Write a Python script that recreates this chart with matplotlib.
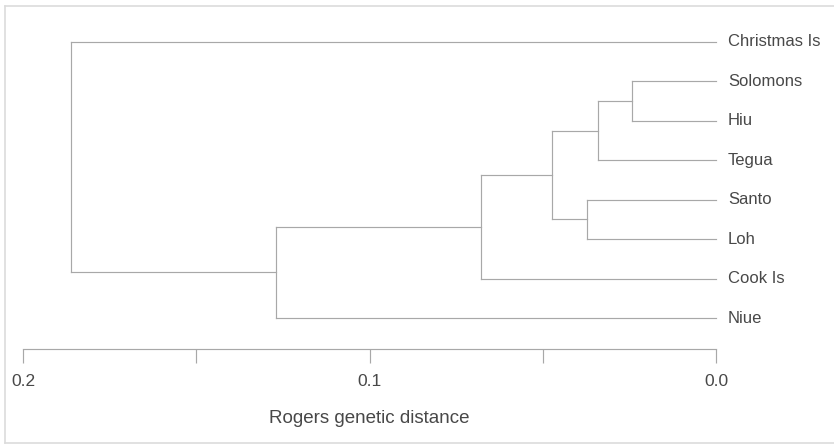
import matplotlib
matplotlib.use("Agg")
import matplotlib.pyplot as plt
from matplotlib.lines import Line2D
import matplotlib.transforms as mtransforms

plt.rcParams["font.family"] = ["Liberation Sans", "DejaVu Sans"]

# leaves, top to bottom
populations = ["Christmas Is", "Solomons", "Hiu", "Tegua", "Santo", "Loh", "Cook Is", "Niue"]

# merges (scipy-like): cluster 8 onwards is formed by joining left and right
merge_left = [1, 8, 4, 9, 11, 12, 0]
merge_right = [2, 3, 5, 10, 6, 7, 13]
merge_dist = [0.0242, 0.0340, 0.0372, 0.0473, 0.0678, 0.1270, 0.1862]

scale_ticks = [0.2, 0.1, 0.0]
scale_minor = [0.15, 0.05]

LINE = "#a8a8a8"
TEXT = "#484848"
W, H = 834, 445
n = len(populations)

fig = plt.figure(figsize=(W / 100, H / 100), dpi=100)

# frame of the scanned figure
for xs, ys in [([5, W], [H - 6, H - 6]), ([5, 5], [H - 6, H - 443]), ([5, W], [H - 443, H - 443])]:
    fig.add_artist(Line2D([x / W for x in xs], [y / H for y in ys],
                          transform=fig.transFigure, color="#dcdcdc", lw=1.2))

# main tree axes: x = distance (0.2 at px 23, 0.0 at px 716), y = leaf index
left_px, right_px = 23, 716
ax = fig.add_axes([left_px / W, 0, (right_px - left_px) / W, 1])
ax.set_xlim(0.2, 0.0)
top_px, step = 42, 39.43
ax.set_ylim((H - top_px) / step, -top_px / step)
ax.axis("off")

pos_y = {i: float(i) for i in range(n)}
pos_x = {i: 0.0 for i in range(n)}
for k, (a, b, d) in enumerate(zip(merge_left, merge_right, merge_dist)):
    c = n + k
    for child in (a, b):
        ax.plot([pos_x[child], d], [pos_y[child], pos_y[child]], color=LINE, lw=0.85, clip_on=False)
    ax.plot([d, d], [pos_y[a], pos_y[b]], color=LINE, lw=0.85, clip_on=False)
    pos_x[c] = d
    pos_y[c] = (pos_y[a] + pos_y[b]) / 2

label_tr = mtransforms.offset_copy(ax.transData, fig=fig, x=12, y=0, units="dots")
for i, name in enumerate(populations):
    ax.text(0.0, i, name, transform=label_tr, ha="left", va="center",
            fontsize=12, color=TEXT)

# distance scale
axis_px = 349
sax = fig.add_axes([left_px / W, (H - axis_px) / H, (right_px - left_px) / W, 0.001])
sax.set_xlim(0.2, 0.0)
sax.set_yticks([])
for s in ("top", "left", "right"):
    sax.spines[s].set_visible(False)
sax.spines["bottom"].set_color(LINE)
sax.spines["bottom"].set_linewidth(0.85)
sax.set_xticks(scale_ticks)
sax.set_xticklabels([f"{t:.1f}" for t in scale_ticks])
sax.set_xticks(scale_minor, minor=True)
sax.tick_params(axis="x", which="both", direction="out", length=10, width=0.85,
                color=LINE, labelsize=12.5, labelcolor=TEXT, pad=8)
sax.set_xlabel("Rogers genetic distance", fontsize=13.5, color=TEXT, labelpad=15)
sax.patch.set_visible(False)

fig.savefig("out.png", dpi=100, facecolor="white")
